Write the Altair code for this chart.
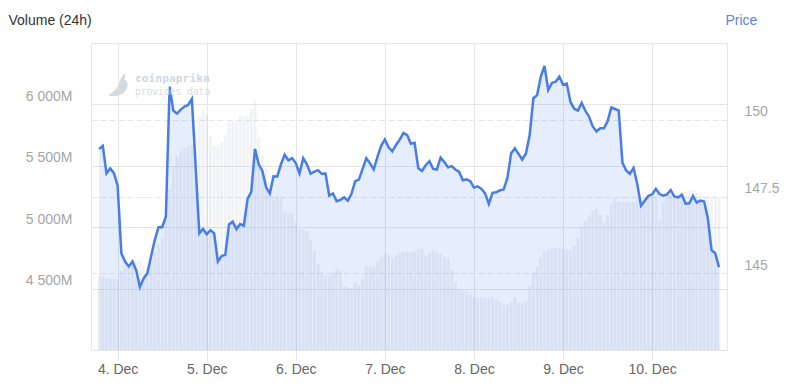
import altair as alt
import pandas as pd

# hourly samples, hours relative to 4 Dec 00:00
hours = list(range(-5, 163))

price = [
    149.05, 149.15, 148.25, 148.42, 148.26,
    147.85, 145.65, 145.38, 145.22, 145.38, 145.10, 144.55, 144.83, 145.00, 145.55,
    146.08, 146.50, 146.50, 146.85, 151.08, 150.30, 150.20, 150.33, 150.43, 150.48,
    150.68, 148.50, 146.30, 146.45,
    146.27, 146.40, 146.30, 145.38, 145.56, 145.60, 146.59, 146.68, 146.44, 146.60,
    146.55, 147.42, 147.65, 149.05, 148.55, 148.33, 147.80, 147.60, 148.16, 148.15,
    148.55, 148.86, 148.68, 148.75,
    148.59, 148.25, 148.75, 148.55, 148.24, 148.31, 148.36, 148.24, 148.25, 147.53,
    147.60, 147.35, 147.39, 147.47, 147.36, 147.59, 148.00, 148.05, 148.40, 148.75,
    148.58, 148.38, 148.80, 149.15,
    149.36, 149.10, 148.97, 149.18, 149.35, 149.57, 149.50, 149.22, 149.25, 148.42,
    148.33, 148.52, 148.65, 148.40, 148.38, 148.77, 148.62, 148.45, 148.49, 148.38,
    148.30, 148.03, 148.06, 148.00,
    147.79, 147.83, 147.75, 147.60, 147.26, 147.62, 147.64, 147.70, 147.73, 148.10,
    148.90, 149.07, 148.89, 148.70, 148.90, 149.50, 150.70, 150.80, 151.40, 151.75,
    150.97, 151.20, 151.24, 151.40,
    151.14, 151.18, 150.58, 150.36, 150.30, 150.55, 150.30, 150.10, 149.78, 149.62,
    149.72, 149.72, 149.95, 150.40, 150.35, 150.30, 148.60, 148.35, 148.24, 148.43,
    147.90, 147.20, 147.36, 147.52,
    147.57, 147.75, 147.58, 147.53, 147.57, 147.71, 147.50, 147.47, 147.56, 147.27,
    147.28, 147.52, 147.30, 147.37, 147.34, 146.80, 145.75, 145.65, 145.20,
]

volume = [
    4600, 4595, 4590, 4585, 4580,
    4573, 4640, 4670, 4700, 4722, 4730, 4730, 4680, 4670, 4740,
    4800, 4860, 4910, 5080, 5310, 5495, 5580, 5620, 5645, 5665,
    5665, 5780, 5905, 5946,
    5915, 5740, 5662, 5670, 5695, 5750, 5855, 5870, 5860, 5910,
    5900, 5905, 5960, 6030, 5730, 5580, 5480, 5370, 5225, 5250,
    5230, 5130, 5120, 5115,
    5040, 4980, 4980, 4965, 4900, 4810, 4700, 4640, 4610, 4600,
    4630, 4660, 4640, 4520, 4510, 4505, 4550, 4530, 4580, 4681,
    4681, 4681, 4720, 4760,
    4790, 4770, 4750, 4770, 4790, 4800, 4800, 4795, 4800, 4820,
    4825, 4770, 4790, 4815, 4795, 4778, 4760, 4745, 4650, 4550,
    4492, 4485, 4478, 4455,
    4430, 4423, 4423, 4423, 4430, 4436, 4410, 4390, 4365, 4370,
    4392, 4430, 4380, 4380, 4400, 4520, 4630, 4680, 4750, 4805,
    4815, 4830, 4831, 4831,
    4825, 4820, 4817, 4850, 4915, 5005, 5050, 5095, 5135, 5150,
    5100, 5035, 5100, 5190, 5230, 5205, 5205, 5210, 5200, 5210,
    5225, 5230, 5240, 5245,
    5250, 5252, 5060, 5200, 5255, 5260, 5267, 5275, 5282, 5290,
    5300, 5305, 5280, 5265, 5252, 5252, 5252, 5252, 5240,
]

day_ticks = [0, 24, 48, 72, 96, 120, 144]
vol_ticks = [4500, 5000, 5500, 6000]
price_ticks = [145, 147.5, 150]

df = pd.DataFrame({"h": hours, "price": price, "volume": volume})

FONT = "Liberation Sans, Arial, sans-serif"
GRID = "#e6e6e6"

x_enc = alt.X(
    "h:Q",
    scale=alt.Scale(domain=[-5.83, 162.82], nice=False, zero=False),
    axis=alt.Axis(
        values=day_ticks,
        labelExpr="(datum.value / 24 + 4) + '. Dec'",
        grid=True, gridColor=GRID, gridWidth=1,
        domain=False, ticks=True, tickSize=10, tickColor=GRID,
        labelColor="#666666", labelFontSize=14, labelFont=FONT,
        labelPadding=2, title=None,
    ),
)

vol_scale = alt.Scale(domain=[4000, 6500], nice=False, zero=False)
price_scale = alt.Scale(domain=[142.5, 152.5], nice=False, zero=False)

bars = alt.Chart(df).mark_bar(width=2.8, color="#a9b0c4", opacity=0.17).encode(
    x=x_enc,
    y=alt.Y(
        "volume:Q", scale=vol_scale,
        axis=alt.Axis(
            orient="left", values=vol_ticks,
            labelExpr="replace(format(datum.value, ','), ',', ' ') + 'M'",
            grid=True, gridColor=GRID, gridWidth=1,
            domain=False, ticks=False,
            labelColor="#a6a6a6", labelFontSize=14, labelFont=FONT,
            labelPadding=19, labelOffset=-8, labelBaseline="middle",
            title="Volume (24h)", titleAngle=0, titleAlign="left",
            titleBaseline="middle", titleX=-83, titleY=-23,
            titleColor="#333333", titleFontSize=14, titleFontWeight="normal",
            titleFont=FONT,
        ),
    ),
    y2=alt.datum(4000),
)

area = alt.Chart(df).mark_area(color="#2f6be8", opacity=0.12).encode(
    x=x_enc,
    y=alt.Y("price:Q", scale=price_scale, axis=None),
    y2=alt.datum(142.5),
)

line = alt.Chart(df).mark_line(color="#477de6", strokeWidth=2.5).encode(
    x=x_enc,
    y=alt.Y(
        "price:Q", scale=price_scale,
        axis=alt.Axis(
            orient="right", values=price_ticks, format=".1~f",
            grid=True, gridColor=GRID, gridWidth=1, gridDash=[6, 3],
            domain=False, ticks=False,
            labelColor="#a6a6a6", labelFontSize=14, labelFont=FONT,
            labelPadding=17, labelOffset=-8, labelBaseline="middle",
            title="Price", titleAngle=0, titleAlign="left",
            titleBaseline="middle", titleX=-2, titleY=-23,
            titleColor="#5b82e6", titleFontSize=14, titleFontWeight="normal",
            titleFont=FONT,
        ),
    ),
)

wm1 = alt.Chart(pd.DataFrame({"t": ["coinpaprika"]})).mark_text(
    font="DejaVu Sans Mono", fontSize=11.3, fontWeight="bold", color="#d3d7de",
    align="left", baseline="middle",
).encode(text="t:N", x=alt.value(44), y=alt.value(36))

wm2 = alt.Chart(pd.DataFrame({"t": ["provides data"]})).mark_text(
    font="DejaVu Sans Mono", fontSize=9.6, color="#d8dbe2",
    align="left", baseline="middle",
).encode(text="t:N", x=alt.value(44), y=alt.value(49))

chili = alt.Chart(pd.DataFrame({"t": ["icon"]})).mark_point(
    shape="M0.35,-1 C0.55,-0.8 0.45,-0.6 0.3,-0.5 C0.85,-0.3 0.7,0.4 0.2,0.75 "
          "C-0.2,1.0 -0.75,1.0 -1,0.85 C-0.45,0.6 -0.15,0.2 0.0,-0.4 "
          "C0.1,-0.55 0.2,-0.75 0.35,-1 Z",
    filled=True, color="#d5d9e0", opacity=1, size=560,
).encode(x=alt.value(29), y=alt.value(42))

chart = (
    alt.layer(bars, area, line, wm1, wm2, chili)
    .resolve_scale(y="independent")
    .properties(
        width=636, height=307,
        padding={"left": 83, "top": 35, "right": 52, "bottom": 29},
        autosize=alt.AutoSizeParams(type="none"),
        background="white",
    )
    .configure_view(stroke=GRID, strokeWidth=1)
)

chart.save("out.html", embed_options={"renderer": "svg", "actions": False})
